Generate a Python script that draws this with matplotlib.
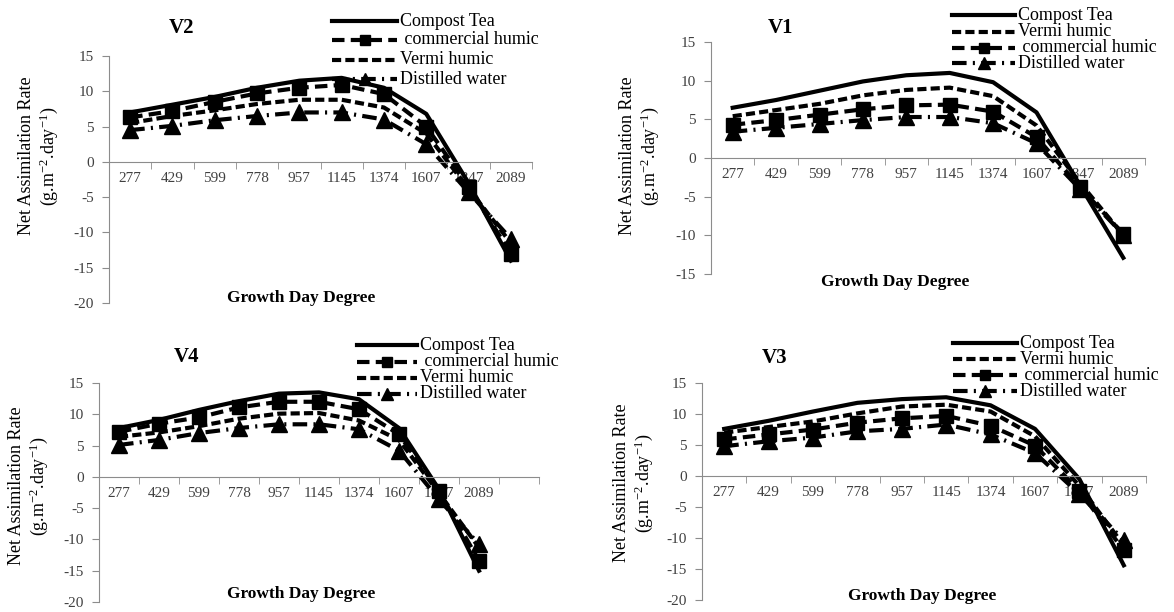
import numpy as np
import matplotlib.pyplot as plt
from matplotlib.lines import Line2D

plt.rcParams['font.family'] = ['Liberation Serif', 'DejaVu Serif']
plt.rcParams['axes.unicode_minus'] = False
plt.rcParams['mathtext.fontset'] = 'custom'
plt.rcParams['mathtext.rm'] = 'Liberation Serif'
plt.rcParams['mathtext.it'] = 'Liberation Serif:italic'

W, H = 1174, 612
GRAY = '#8c8c8c'

# growth day degree categories
gdd = ['277', '429', '599', '778', '957', '1145', '1374', '1607', '1847', '2089']

# V2
v2_compost = [7.0, 8.1, 9.2, 10.5, 11.5, 11.9, 10.5, 6.8, -3.0, -14.0]
v2_commercial = [6.3, 7.2, 8.5, 9.7, 10.5, 10.9, 9.6, 5.0, -3.5, -13.0]
v2_vermi = [5.5, 6.5, 7.3, 8.2, 8.8, 8.8, 7.7, 4.0, -3.8, -11.5]
v2_water = [4.5, 5.1, 5.9, 6.5, 7.0, 7.0, 6.0, 2.5, -4.3, -10.9]

# V1
v1_compost = [6.5, 7.5, 8.7, 9.9, 10.7, 11.0, 9.8, 5.9, -3.5, -12.9]
v1_vermi = [5.4, 6.2, 7.0, 8.1, 8.8, 9.1, 8.0, 4.2, -3.2, -10.0]
v1_commercial = [4.3, 4.9, 5.6, 6.3, 6.8, 6.9, 6.0, 2.7, -3.8, -9.8]
v1_water = [3.4, 3.9, 4.4, 4.9, 5.3, 5.3, 4.5, 1.9, -4.0, -9.9]

# V4
v4_compost = [7.8, 9.1, 10.7, 12.1, 13.3, 13.5, 12.4, 7.8, -2.0, -15.0]
v4_commercial = [7.2, 8.5, 9.5, 11.1, 12.0, 12.0, 10.8, 6.8, -2.3, -13.4]
v4_vermi = [6.4, 7.1, 8.1, 9.3, 10.1, 10.2, 9.0, 5.9, -2.6, -11.3]
v4_water = [5.1, 5.9, 7.0, 7.8, 8.4, 8.4, 7.6, 4.2, -3.6, -10.8]

# V3
v3_compost = [7.6, 8.9, 10.4, 11.8, 12.4, 12.7, 11.4, 7.6, -0.5, -14.4]
v3_vermi = [7.0, 7.9, 8.8, 10.1, 11.2, 11.5, 10.4, 6.4, -1.6, -11.2]
v3_commercial = [5.9, 6.7, 7.5, 8.6, 9.3, 9.7, 8.1, 4.9, -2.4, -12.0]
v3_water = [4.8, 5.6, 6.2, 7.2, 7.6, 8.3, 6.7, 3.7, -2.9, -10.4]

# line styles of the four treatments
styles = {
    'Compost Tea': dict(ls='-'),
    ' commercial humic': dict(ls=(0, (3, 1.5)), marker='s', ms=10),
    'Vermi humic': dict(ls=(0, (2.2, 1.0))),
    'Distilled water': dict(ls=(0, (3.5, 1.5, 0.5, 1.5)), marker='^', ms=12),
}

# panel layout in pixels: axes box, y range, slots, title, labels, legend
panels = [
    dict(title='V2', box=(109, 532, 56, 303), ymin=-20, slots=10, tpos=(182, 28),
         ylab=(39, 156), xlab=(301, 298), leg=(332, 397, [21, 40, 60, 79]),
         data={'Compost Tea': v2_compost, ' commercial humic': v2_commercial,
               'Vermi humic': v2_vermi, 'Distilled water': v2_water}),
    dict(title='V1', box=(711, 1145, 42, 274), ymin=-15, slots=10, tpos=(781, 28),
         ylab=(640, 156), xlab=(895, 282), leg=(952, 1015, [15, 32, 48, 63]),
         data={'Compost Tea': v1_compost, 'Vermi humic': v1_vermi,
               ' commercial humic': v1_commercial, 'Distilled water': v1_water}),
    dict(title='V4', box=(99, 539, 383, 602), ymin=-20, slots=11, tpos=(187, 357),
         ylab=(29, 486), xlab=(301, 594), leg=(357, 417, [345, 362, 378, 394]),
         data={'Compost Tea': v4_compost, ' commercial humic': v4_commercial,
               'Vermi humic': v4_vermi, 'Distilled water': v4_water}),
    dict(title='V3', box=(702, 1146, 383, 600), ymin=-20, slots=10, tpos=(775, 358),
         ylab=(634, 483), xlab=(922, 596), leg=(953, 1017, [343, 359, 375, 391]),
         data={'Compost Tea': v3_compost, 'Vermi humic': v3_vermi,
               ' commercial humic': v3_commercial, 'Distilled water': v3_water}),
]

fig = plt.figure(figsize=(W / 100, H / 100), dpi=100)


def fx(px):
    return px / W


def fy(py):
    return 1 - py / H


for p in panels:
    left, right, top, bottom = p['box']
    ax = fig.add_axes([fx(left), fy(bottom), (right - left) / W, (bottom - top) / H])
    x = np.arange(len(gdd))

    for name, vals in p['data'].items():
        ax.plot(x, vals, color='black', lw=3, clip_on=False, **styles[name])

    ax.set_xlim(-0.5, p['slots'] - 0.5)
    ax.set_ylim(p['ymin'], 15)
    ax.set_yticks(range(p['ymin'], 16, 5))

    # Excel-like axes: y axis on the left, x axis crossing at zero
    for s in ['top', 'right']:
        ax.spines[s].set_visible(False)
    ax.spines['bottom'].set_position(('data', 0))
    ax.spines['bottom'].set_color(GRAY)
    ax.spines['left'].set_color(GRAY)

    ax.set_xticks(x)
    ax.set_xticklabels(gdd)
    ax.set_xticks(np.arange(-0.5, p['slots']), minor=True)
    ax.tick_params(axis='x', which='major', length=0, pad=7, labelsize=11, labelcolor='#404040')
    ax.tick_params(axis='x', which='minor', length=5, color=GRAY, direction='out')
    ax.tick_params(axis='y', length=5, color=GRAY, labelsize=11, labelcolor='#404040', pad=6)
    ax.patch.set_alpha(0)

    fig.text(fx(p['tpos'][0]), fy(p['tpos'][1]), p['title'], fontsize=15,
             fontweight='bold', ha='center', va='center')
    fig.text(fx(p['ylab'][0]), fy(p['ylab'][1]),
             'Net Assimilation Rate\n(g.m$^{\\mathrm{-2}}$.day$^{\\mathrm{-1}}$)', rotation=90,
             fontsize=13, ha='center', va='center', linespacing=1.15)
    fig.text(fx(p['xlab'][0]), fy(p['xlab'][1]), 'Growth Day Degree', fontsize=12.5,
             fontweight='bold', ha='center', va='center')

    # legend drawn by hand to match the original spacing
    lx0, lx1, rows = p['leg']
    for name, ry in zip(p['data'].keys(), rows):
        st = styles[name]
        fig.add_artist(Line2D([fx(lx0), fx(lx1)], [fy(ry), fy(ry)], color='black',
                              lw=3, ls=st['ls']))
        if 'marker' in st:
            fig.add_artist(Line2D([fx((lx0 + lx1) / 2)], [fy(ry)], color='black',
                                  ls='none', marker=st['marker'], ms=st['ms'] - 3))
        fig.text(fx(lx1 + 3), fy(ry), name, fontsize=13, ha='left', va='center')

plt.savefig('out.png', dpi=100)
